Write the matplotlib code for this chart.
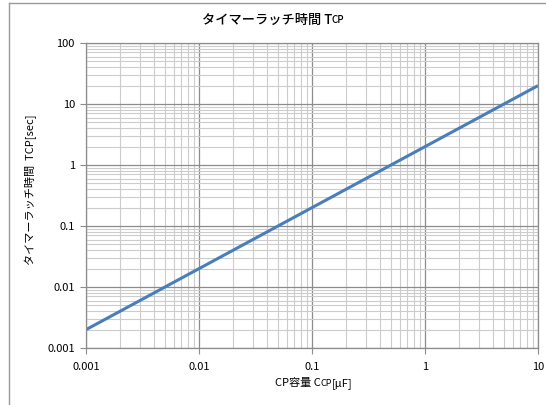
import matplotlib
matplotlib.use('Agg')
import matplotlib.pyplot as plt
from matplotlib.lines import Line2D
from matplotlib.offsetbox import TextArea, HPacker, AnchoredOffsetbox
from matplotlib.ticker import LogLocator, FuncFormatter, NullFormatter

plt.rcParams['font.family'] = ['Noto Sans CJK JP', 'DejaVu Sans']

# data: CP capacitance [uF] vs timer latch time [sec]
ccp = [0.001, 0.01, 0.1, 1, 10]
tcp = [0.002, 0.02, 0.2, 2, 20]

ylabel = 'タイマーラッチ時間  TCP[sec]'

fig = plt.figure(figsize=(5.46, 4.05), dpi=100)
ax = fig.add_axes([0.1575, 0.1407, 0.9853 - 0.1575, 0.8938 - 0.1407])

ax.plot(ccp, tcp, color='#4a7ebb', linewidth=2.2, solid_capstyle='butt')

ax.set_xscale('log')
ax.set_yscale('log')
ax.set_xlim(0.001, 10)
ax.set_ylim(0.001, 100)

ax.xaxis.set_major_locator(LogLocator(base=10, numticks=10))
ax.yaxis.set_major_locator(LogLocator(base=10, numticks=10))
ax.xaxis.set_minor_locator(LogLocator(base=10, subs=range(2, 10), numticks=20))
ax.yaxis.set_minor_locator(LogLocator(base=10, subs=range(2, 10), numticks=20))
fmt = FuncFormatter(lambda v, p: ('%g' % v))
ax.xaxis.set_major_formatter(fmt)
ax.yaxis.set_major_formatter(fmt)
ax.xaxis.set_minor_formatter(NullFormatter())
ax.yaxis.set_minor_formatter(NullFormatter())

ax.grid(which='major', color='#8c8c8c', linewidth=0.9)
ax.grid(which='minor', color='#cccccc', linewidth=0.8)
ax.set_axisbelow(True)
for s in ax.spines.values():
    s.set_color('#8c8c8c')
    s.set_linewidth(0.9)
ax.tick_params(which='major', length=4, color='#8c8c8c', labelsize=8, pad=4)
ax.tick_params(which='minor', length=0)
ax.tick_params(axis='x', pad=6)

ax.set_ylabel(ylabel, fontsize=8)
ax.yaxis.set_label_coords(-0.108, 0.52)


def packed_text(parts, loc_xy, weight='normal'):
    # text with small "CP" pieces on the same baseline
    boxes = [TextArea(t, textprops=dict(fontsize=s, fontweight=weight)) for t, s in parts]
    pack = HPacker(children=boxes, align='baseline', pad=0, sep=0)
    ab = AnchoredOffsetbox(loc='center', child=pack, frameon=False, pad=0,
                           bbox_to_anchor=loc_xy, bbox_transform=fig.transFigure, borderpad=0)
    fig.add_artist(ab)


packed_text([('タイマーラッチ時間 T', 9.5), ('CP', 7)], (0.5, 0.952), weight='medium')
packed_text([('CP容量 C', 8), ('CP', 6.5), ('[μF]', 8)], (0.575, 0.053))

# outer chart frame (top and left edges visible)
fig.add_artist(Line2D([9 / 546, 9 / 546], [0, 1 - 3 / 405], transform=fig.transFigure, color='#9a9a9a', linewidth=1))
fig.add_artist(Line2D([9 / 546, 1], [1 - 3 / 405, 1 - 3 / 405], transform=fig.transFigure, color='#9a9a9a', linewidth=1))

fig.savefig('out.png', dpi=100)
